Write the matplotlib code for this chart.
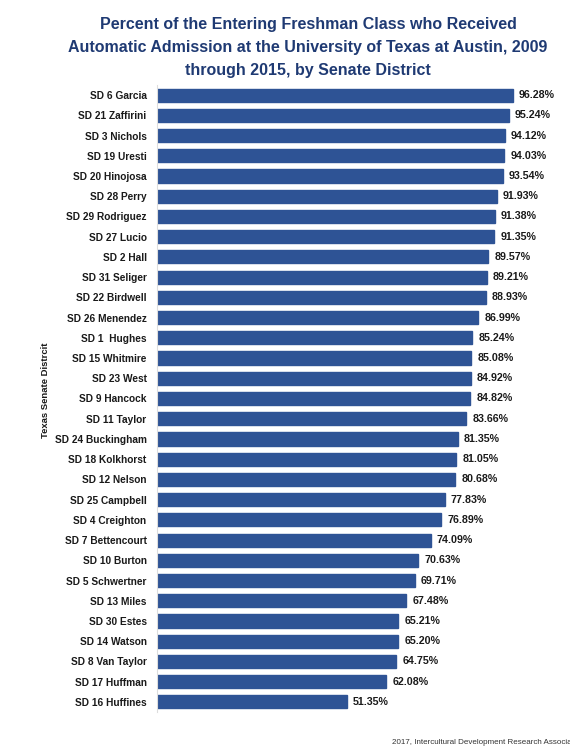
import matplotlib
matplotlib.use("Agg")
import matplotlib.pyplot as plt

districts = ["SD 6 Garcia", "SD 21 Zaffirini", "SD 3 Nichols", "SD 19 Uresti", "SD 20 Hinojosa",
             "SD 28 Perry", "SD 29 Rodriguez", "SD 27 Lucio", "SD 2 Hall", "SD 31 Seliger",
             "SD 22 Birdwell", "SD 26 Menendez", "SD 1  Hughes", "SD 15 Whitmire", "SD 23 West",
             "SD 9 Hancock", "SD 11 Taylor", "SD 24 Buckingham", "SD 18 Kolkhorst", "SD 12 Nelson",
             "SD 25 Campbell", "SD 4 Creighton", "SD 7 Bettencourt", "SD 10 Burton", "SD 5 Schwertner",
             "SD 13 Miles", "SD 30 Estes", "SD 14 Watson", "SD 8 Van Taylor", "SD 17 Huffman",
             "SD 16 Huffines"]
percents = [96.28, 95.24, 94.12, 94.03, 93.54, 91.93, 91.38, 91.35, 89.57, 89.21,
            88.93, 86.99, 85.24, 85.08, 84.92, 84.82, 83.66, 81.35, 81.05, 80.68,
            77.83, 76.89, 74.09, 70.63, 69.71, 67.48, 65.21, 65.20, 64.75, 62.08,
            51.35]

title_lines = ["Percent of the Entering Freshman Class who Received",
               "Automatic Admission at the University of Texas at Austin, 2009",
               "through 2015, by Senate District"]
ylabel = "Texas Senate Distrcit"
footer = "2017, Intercultural Development Research Association"

plt.rcParams["font.family"] = ["Liberation Sans", "DejaVu Sans"]

W, H = 570, 756
fig = plt.figure(figsize=(W/100, H/100), dpi=100)
renderer = fig.canvas.get_renderer()

def fit_size(text, target_px, weight="bold", base=10.0):
    t = fig.text(0, 0, text, fontsize=base, fontweight=weight)
    w = t.get_window_extent(renderer).width
    t.remove()
    return base * target_px / w

lab_fs = fit_size("SD 24 Buckingham", 92)
val_fs = fit_size("96.28%", 36)
title_fs = fit_size(title_lines[1], 478)
ylab_fs = fit_size(ylabel, 95)
foot_fs = fit_size("2017, Intercultural Development Research Associa", 179, weight="normal")

ax = fig.add_axes([157/W, 1-712/H, (526.4-157)/W, (712-85)/H])

y = list(range(len(districts)))
ax.barh(y, percents, height=0.65, color="#2E5395", edgecolor="#2E5395")
ax.set_ylim(len(districts)-0.5, -0.5)
ax.set_xlim(0, 100)
ax.set_yticks(y)
ax.set_yticklabels(districts, fontsize=lab_fs, fontweight="bold", color="#1a1a1a")
ax.tick_params(axis="y", length=0, pad=7.5)
ax.set_xticks([])
for s in ["top", "right", "bottom"]:
    ax.spines[s].set_visible(False)
ax.spines["left"].set_color("#DDDDDD")
ax.spines["left"].set_linewidth(0.8)

for yi, v in zip(y, percents):
    ax.text(v + 1.7, yi, f"{v:.2f}%", va="center", ha="left", fontsize=val_fs,
            fontweight="bold", color="#1a1a1a")

fig.text(46/W, 1-390/H, ylabel, rotation=90, ha="center", va="center",
         fontsize=ylab_fs, fontweight="bold", color="#1a1a1a")
for i, line in enumerate(title_lines):
    fig.text(308/W, 1-(25 + 22.5*i)/H, line, ha="center", va="center",
             fontsize=title_fs, fontweight="bold", color="#1F3A73")
fig.text(392/W, 1-742/H, footer, ha="left", va="center", fontsize=foot_fs,
         color="#333333")

fig.savefig("out.png", dpi=100)
